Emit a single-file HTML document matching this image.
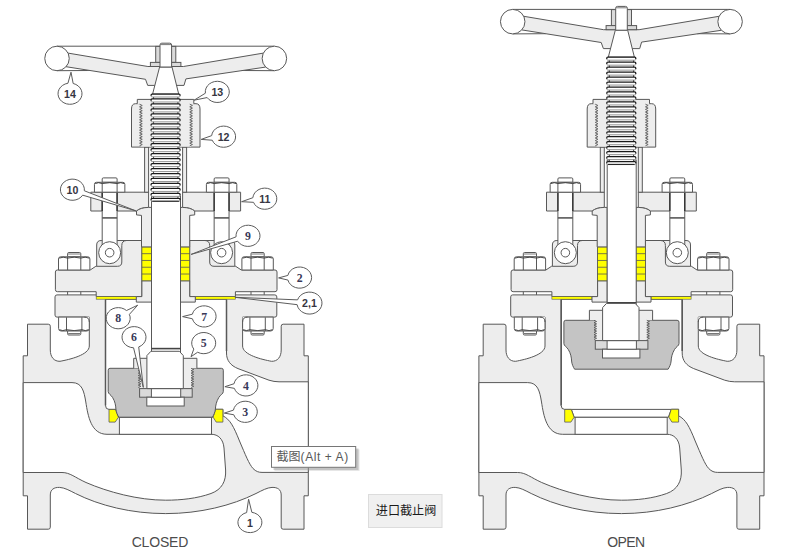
<!DOCTYPE html><html><head><meta charset="utf-8"><style>html,body{margin:0;padding:0;background:#fff}svg{display:block}</style></head><body><svg width="807" height="556" viewBox="0 0 807 556" font-family="'Liberation Sans', sans-serif" stroke-linecap="butt"><defs><g id="body"><path d="M57,294.9 H274.8 Q276.8,294.9 276.8,296.9 V315.1 Q276.8,317.1 274.8,317.1 H247.5 Q242.6,317.1 242.6,322 V346 C242.6,355 262,359.5 271.5,361.3 C277.5,361.5 281.2,357 281.2,350 V326.2 Q281.2,324.2 283.2,324.2 H304 V355.8 H308.3 V495.8 H304 V529.2 H283.2 Q281.2,529.2 281.2,527.2 V495 C281.2,489.5 277.5,487.2 272,487.4 C267,487.6 262,490.5 256,493.5 C232,505.5 200,513.6 165.75,513.6 C131,513.6 99.5,505.5 75.5,493.5 C69.5,490.5 64.5,487.6 59.5,487.4 C54,487.2 50.3,489.5 50.3,495 V527.2 Q50.3,529.2 48.3,529.2 H27.5 V495.8 H23.2 V355.8 H27.5 V324.2 H48.3 Q50.3,324.2 50.3,326.2 V350 C50.3,357 54,361.5 60,361.3 C69.5,359.5 89.3,355 89.3,346 V322 Q89.3,317.1 84.4,317.1 H57 Q55,317.1 55,315.1 V296.9 Q55,294.9 57,294.9 Z" fill="#ededed" stroke="#585858"/><path d="M23.2,382.6 H72 C82,382.6 84,391 85.8,402 C88,416 91,434.3 107,434.3 H211.5 C218,434.3 223.3,439 224,448 L225.6,470 C226.2,481 222,489.5 211,493.5 C197,498.5 181,500.2 165.75,500.2 C138,500.2 108,492 86,482.5 C75,477.5 70,472.5 62,472.5 H23.2 Z" fill="#fff" stroke="#585858"/><path d="M105.5,299.3 V405.5 Q105.5,409.4 109,409.4 H115.6 L118.6,417.3 H212.6 L215.6,409.3 H222.9 V415.8 C230,419.5 233.5,426 239.5,441 C245.5,455 249,464 253,468.5 C256,471.5 258.5,472.4 262,472.4 H308.3 V381.8 H279 Q274,381.8 269,380.2 L238,368.6 C230.5,365.5 226.5,360.5 226.5,353 V299.3 Z" fill="#fff" stroke="#585858"/><path d="M105.5,299.3 V405.5 M226.5,299.3 V351" stroke="#585858" stroke-width="1.5" fill="none"/><rect x="119.4" y="417.3" width="92.1" height="17" fill="#fff" stroke="#585858"/><path d="M115.6,409.4 H215.5" stroke="#585858" fill="none"/><path d="M109,409.4 H115.6 L118.4,417.3 L115.2,422.1 H109 Z" fill="#ffff00" stroke="#585858" stroke-width="0.8"/><path d="M222.9,409.3 H215.5 L213.1,417.1 L216.2,422.1 H222.9 Z" fill="#ffff00" stroke="#585858" stroke-width="0.8"/></g><g id="top"><path d="M55.4,272 Q55.4,270 57.4,270 H90.2 L95.8,266.3 H96.7 V245 Q96.7,240.5 101.2,240.5 H141.9 V296.6 H96.2 V291.7 H57.4 Q55.4,291.7 55.4,289.7 Z" fill="#ededed" stroke="#585858"/><path d="M277,272 Q277,270 275,270 H241.3 L235.7,266.3 H234.8 V245 Q234.8,240.5 230.3,240.5 H189.7 V296.6 H235.4 V291.7 H275 Q277,291.7 277,289.7 Z" fill="#ededed" stroke="#585858"/><path d="M126.6,240.5 Q121.8,240.7 121.8,245.5 V262 Q121.8,266.3 117.5,266.3 H96.7" fill="none" stroke="#585858"/><path d="M204.9,240.5 Q209.7,240.7 209.7,245.5 V262 Q209.7,266.3 214,266.3 H234.8" fill="none" stroke="#585858"/><rect x="96.2" y="296.7" width="40.1" height="2.5" fill="#ffff00" stroke="#585858" stroke-width="0.6"/><rect x="195.3" y="296.7" width="40.1" height="2.5" fill="#ffff00" stroke="#585858" stroke-width="0.6"/><path d="M141.9,280.8 H151.5 V302.1 H136.3 V296.6 H141.9 Z" fill="#ededed" stroke="#585858"/><path d="M189.7,280.8 H180.3 V302.1 H195.3 V296.6 H189.7 Z" fill="#ededed" stroke="#585858"/><rect x="141.9" y="246.9" width="9.60" height="33.9" fill="#ffff00" stroke="#585858" stroke-width="0.8"/><path d="M141.9,253.68 H151.5" stroke="#585858" stroke-width="0.8"/><path d="M141.9,260.46 H151.5" stroke="#585858" stroke-width="0.8"/><path d="M141.9,267.24 H151.5" stroke="#585858" stroke-width="0.8"/><path d="M141.9,274.02 H151.5" stroke="#585858" stroke-width="0.8"/><rect x="180.3" y="246.9" width="9.40" height="33.9" fill="#ffff00" stroke="#585858" stroke-width="0.8"/><path d="M180.3,253.68 H189.7" stroke="#585858" stroke-width="0.8"/><path d="M180.3,260.46 H189.7" stroke="#585858" stroke-width="0.8"/><path d="M180.3,267.24 H189.7" stroke="#585858" stroke-width="0.8"/><path d="M180.3,274.02 H189.7" stroke="#585858" stroke-width="0.8"/><path d="M67.60000000000001,256.8 V253.7 Q67.60000000000001,252.5 68.80000000000001,252.5 H79.6 Q80.8,252.5 80.8,253.7 V256.8 Z" fill="#fff" stroke="#585858"/><path d="M68.2,254 H80.2" stroke="#585858" stroke-width="0.8"/><path d="M58.5,270 V259 Q58.5,256.8 60.7,256.8 H87.7 Q89.9,256.8 89.9,259 V270 Z" fill="#fff" stroke="#585858"/><path d="M67.60000000000001,257 V270 M80.8,257 V270" stroke="#585858" fill="none"/><path d="M59.3,258.1 Q63.050000000000004,256.3 67.60000000000001,258.1 Q74.2,256.3 80.8,258.1 Q85.35,256.3 89.10000000000001,258.1" fill="none" stroke="#3a3a3a" stroke-width="0.9"/><path d="M67.60000000000001,291.7 V294.9 M80.8,291.7 V294.9" stroke="#585858" fill="none"/><path d="M251.00000000000003,256.8 V253.7 Q251.00000000000003,252.5 252.20000000000002,252.5 H263.00000000000006 Q264.20000000000005,252.5 264.20000000000005,253.7 V256.8 Z" fill="#fff" stroke="#585858"/><path d="M251.60000000000002,254 H263.6" stroke="#585858" stroke-width="0.8"/><path d="M241.90000000000003,270 V259 Q241.90000000000003,256.8 244.10000000000002,256.8 H271.1 Q273.3,256.8 273.3,259 V270 Z" fill="#fff" stroke="#585858"/><path d="M251.00000000000003,257 V270 M264.20000000000005,257 V270" stroke="#585858" fill="none"/><path d="M242.70000000000005,258.1 Q246.45000000000005,256.3 251.00000000000003,258.1 Q257.6,256.3 264.20000000000005,258.1 Q268.75,256.3 272.5,258.1" fill="none" stroke="#3a3a3a" stroke-width="0.9"/><path d="M251.00000000000003,291.7 V294.9 M264.20000000000005,291.7 V294.9" stroke="#585858" fill="none"/><path d="M58.6,317.1 V328.5 Q58.6,331 61.1,331 H86.8 Q89.3,331 89.3,328.5 V317.1 Z" fill="#fff" stroke="#585858"/><path d="M66.5,317.3 V331 M81.9,317.3 V331" stroke="#585858" fill="none"/><path d="M59.4,329.7 Q62.55,331.5 66.5,329.7 Q74.2,331.5 81.9,329.7 Q85.6,331.5 88.5,329.7" fill="none" stroke="#3a3a3a" stroke-width="0.9"/><path d="M67.60000000000001,331 V333.8 Q67.60000000000001,335 68.8,335 H79.60000000000001 Q80.8,335 80.8,333.8 V331 Z" fill="#fff" stroke="#585858"/><path d="M68.2,333.6 H80.2" stroke="#585858" stroke-width="0.9"/><path d="M242.6,317.1 V328.5 Q242.6,331 245.1,331 H270.70000000000005 Q273.20000000000005,331 273.20000000000005,328.5 V317.1 Z" fill="#fff" stroke="#585858"/><path d="M249.90000000000003,317.3 V331 M265.3,317.3 V331" stroke="#585858" fill="none"/><path d="M243.4,329.7 Q246.25,331.5 249.90000000000003,329.7 Q257.6,331.5 265.3,329.7 Q269.25,331.5 272.40000000000003,329.7" fill="none" stroke="#3a3a3a" stroke-width="0.9"/><path d="M251.00000000000003,331 V333.8 Q251.00000000000003,335 252.20000000000002,335 H263.0 Q264.20000000000005,335 264.20000000000005,333.8 V331 Z" fill="#fff" stroke="#585858"/><path d="M251.60000000000002,333.6 H263.6" stroke="#585858" stroke-width="0.9"/><path d="M84.4,317.1 H89.3 V322 Q89.3,317.1 84.4,317.1 Z" fill="#ededed" stroke="none"/><path d="M84.4,317.1 Q89.3,317.1 89.3,322" fill="none" stroke="#585858"/><path d="M247.5,317.1 H242.6 V322 Q242.6,317.1 247.5,317.1 Z" fill="#ededed" stroke="none"/><path d="M247.5,317.1 Q242.6,317.1 242.6,322" fill="none" stroke="#585858"/><path d="M90.8,192.2 H148.6 V207.4 Q140.5,207.6 136.5,211 H90.8 Z" fill="#ededed" stroke="#585858"/><path d="M240.6,192.2 H182.6 V207.4 Q190.7,207.6 194.7,211 H240.6 Z" fill="#ededed" stroke="#585858"/><path d="M136.5,211 V214.9 L141.5,215.4 V246.9 H151.5 V207.4 H148.6 Q140.5,207.6 136.5,211 Z" fill="#ededed" stroke="#585858"/><path d="M194.7,211 V214.9 L189.7,215.4 V246.9 H180.3 V207.4 H182.6 Q190.7,207.6 194.7,211 Z" fill="#ededed" stroke="#585858"/><path d="M102.2,192.2 V246 H117.1 V192.2 Z" fill="#fff" stroke="#585858"/><circle cx="109.65" cy="252.7" r="11" fill="#fff" stroke="#585858"/><circle cx="109.65" cy="252.7" r="4.3" fill="#fff" stroke="#585858"/><path d="M102.2,217.9 H117.1" stroke="#585858" stroke-width="1.6"/><path d="M102.2,192.2 V211 M117.1,192.2 V211" stroke="#333" stroke-width="1.4"/><path d="M102.2,182.3 V179 Q102.2,177.9 103.3,177.9 H116.0 Q117.1,177.9 117.1,179 V182.3 Z" fill="#fff" stroke="#585858"/><path d="M94.45,192.2 V184.3 Q94.45,182.3 96.45,182.3 H122.85000000000001 Q124.85000000000001,182.3 124.85000000000001,184.3 V192.2 Z" fill="#fff" stroke="#585858"/><path d="M102.2,182.5 V192.2 M117.1,182.5 V192.2" stroke="#585858" fill="none"/><path d="M95.25,183.60000000000002 Q98.325,181.8 102.2,183.60000000000002 Q109.65,181.8 117.1,183.60000000000002 Q120.975,181.8 124.05000000000001,183.60000000000002" fill="none" stroke="#3a3a3a" stroke-width="0.9"/><path d="M214.15,192.2 V246 H229.05 V192.2 Z" fill="#fff" stroke="#585858"/><circle cx="221.6" cy="252.7" r="11" fill="#fff" stroke="#585858"/><circle cx="221.6" cy="252.7" r="4.3" fill="#fff" stroke="#585858"/><path d="M214.15,217.9 H229.05" stroke="#585858" stroke-width="1.6"/><path d="M214.15,192.2 V211 M229.05,192.2 V211" stroke="#333" stroke-width="1.4"/><path d="M214.15,182.3 V179 Q214.15,177.9 215.25,177.9 H227.95000000000002 Q229.05,177.9 229.05,179 V182.3 Z" fill="#fff" stroke="#585858"/><path d="M206.4,192.2 V184.3 Q206.4,182.3 208.4,182.3 H234.79999999999998 Q236.79999999999998,182.3 236.79999999999998,184.3 V192.2 Z" fill="#fff" stroke="#585858"/><path d="M214.15,182.5 V192.2 M229.05,182.5 V192.2" stroke="#585858" fill="none"/><path d="M207.20000000000002,183.60000000000002 Q210.275,181.8 214.15,183.60000000000002 Q221.60000000000002,181.8 229.05,183.60000000000002 Q232.925,181.8 235.99999999999997,183.60000000000002" fill="none" stroke="#3a3a3a" stroke-width="0.9"/><rect x="144.6" y="147.1" width="4" height="45.1" fill="#ededed" stroke="#585858"/><rect x="182.6" y="147.1" width="4" height="45.1" fill="#ededed" stroke="#585858"/><path d="M131.5,109 Q131.5,103.7 135.5,103.7 H196 Q200,103.7 200,109 V147.1 H131.5 Z" fill="#ededed" stroke="#585858"/><rect x="137.3" y="99.4" width="56.5" height="5" fill="#ededed"/><rect x="140.9" y="103" width="50.2" height="43.6" fill="#ededed"/><path d="M137.3,103.7 V99.4 H193.8 V103.7" fill="none" stroke="#585858"/><path d="M139.55,104.20 L142.25,105.50 L139.55,106.80 L142.25,108.10 L139.55,109.40 L142.25,110.70 L139.55,112.00 L142.25,113.30 L139.55,114.60 L142.25,115.90 L139.55,117.20 L142.25,118.50 L139.55,119.80 L142.25,121.10 L139.55,122.40 L142.25,123.70 L139.55,125.00 L142.25,126.30 L139.55,127.60 L142.25,128.90 L139.55,130.20 L142.25,131.50 L139.55,132.80 L142.25,134.10 L139.55,135.40 L142.25,136.70 L139.55,138.00 L142.25,139.30 L139.55,140.60 L142.25,141.90 L139.55,143.20 L142.25,144.50 L139.55,145.80" fill="none" stroke="#666" stroke-width="1"/><path d="M189.75,104.20 L192.45,105.50 L189.75,106.80 L192.45,108.10 L189.75,109.40 L192.45,110.70 L189.75,112.00 L192.45,113.30 L189.75,114.60 L192.45,115.90 L189.75,117.20 L192.45,118.50 L189.75,119.80 L192.45,121.10 L189.75,122.40 L192.45,123.70 L189.75,125.00 L192.45,126.30 L189.75,127.60 L192.45,128.90 L189.75,130.20 L192.45,131.50 L189.75,132.80 L192.45,134.10 L189.75,135.40 L192.45,136.70 L189.75,138.00 L192.45,139.30 L189.75,140.60 L192.45,141.90 L189.75,143.20 L192.45,144.50 L189.75,145.80" fill="none" stroke="#666" stroke-width="1"/></g><g id="head"><path d="M57,46.2 H274.4 M57,70.7 L90,70.5 M274.4,70.7 L241.4,70.5" stroke="#585858" fill="none"/><path d="M66,52.75 L147.9,66.5 H183.4 L265.5,52.75 V67.1 L185.9,78.9 L184,85.4 H147.7 L145.5,79.3 L66,66.7 Z" fill="#ededed" stroke="#585858" stroke-linejoin="round"/><circle cx="57" cy="58.45" r="12.25" fill="#fff" stroke="#585858"/><circle cx="274.4" cy="58.45" r="12.25" fill="#fff" stroke="#585858"/><rect x="155.7" y="46.4" width="20.1" height="16" fill="#dadada" stroke="#585858"/><rect x="150.4" y="62.4" width="30.5" height="4.1" fill="#dadada" stroke="#585858"/><path d="M159.6,67 H172 L178.7,94 H152.6 Z" fill="#fff" stroke="#585858"/><path d="M160,67 V45 Q160,43.2 161.8,43.2 H169.8 Q171.6,43.2 171.6,45 V67 Z" fill="#fff" stroke="#585858"/><path d="M160.6,44.6 H171" stroke="#585858" stroke-width="0.8"/><rect x="153.6" y="94.5" width="24.3" height="105.9" fill="#fff" stroke="#333" stroke-width="0.9"/><rect x="151.1" y="94.00" width="28.95" height="3.0" rx="1" fill="#fff"/><path d="M151.1,95.50 V96.10 Q151.1,97.00 152.1,97.00 H179.05 Q180.05,97.00 180.05,96.10 V95.50" fill="none" stroke="#7a7a7a" stroke-width="0.8"/><path d="M151.1,95.80 V94.90 Q151.1,94.00 152.1,94.00 H179.05 Q180.05,94.00 180.05,94.90 V95.80" fill="none" stroke="#1a1a1a" stroke-width="1.25"/><rect x="151.1" y="98.97" width="28.95" height="3.0" rx="1" fill="#fff"/><path d="M151.1,100.47 V101.07 Q151.1,101.97 152.1,101.97 H179.05 Q180.05,101.97 180.05,101.07 V100.47" fill="none" stroke="#7a7a7a" stroke-width="0.8"/><path d="M151.1,100.77 V99.87 Q151.1,98.97 152.1,98.97 H179.05 Q180.05,98.97 180.05,99.87 V100.77" fill="none" stroke="#1a1a1a" stroke-width="1.25"/><rect x="151.1" y="103.94" width="28.95" height="3.0" rx="1" fill="#fff"/><path d="M151.1,105.44 V106.04 Q151.1,106.94 152.1,106.94 H179.05 Q180.05,106.94 180.05,106.04 V105.44" fill="none" stroke="#7a7a7a" stroke-width="0.8"/><path d="M151.1,105.74 V104.84 Q151.1,103.94 152.1,103.94 H179.05 Q180.05,103.94 180.05,104.84 V105.74" fill="none" stroke="#1a1a1a" stroke-width="1.25"/><rect x="151.1" y="108.91" width="28.95" height="3.0" rx="1" fill="#fff"/><path d="M151.1,110.41 V111.01 Q151.1,111.91 152.1,111.91 H179.05 Q180.05,111.91 180.05,111.01 V110.41" fill="none" stroke="#7a7a7a" stroke-width="0.8"/><path d="M151.1,110.71 V109.81 Q151.1,108.91 152.1,108.91 H179.05 Q180.05,108.91 180.05,109.81 V110.71" fill="none" stroke="#1a1a1a" stroke-width="1.25"/><rect x="151.1" y="113.88" width="28.95" height="3.0" rx="1" fill="#fff"/><path d="M151.1,115.38 V115.98 Q151.1,116.88 152.1,116.88 H179.05 Q180.05,116.88 180.05,115.98 V115.38" fill="none" stroke="#7a7a7a" stroke-width="0.8"/><path d="M151.1,115.68 V114.78 Q151.1,113.88 152.1,113.88 H179.05 Q180.05,113.88 180.05,114.78 V115.68" fill="none" stroke="#1a1a1a" stroke-width="1.25"/><rect x="151.1" y="118.85" width="28.95" height="3.0" rx="1" fill="#fff"/><path d="M151.1,120.35 V120.95 Q151.1,121.85 152.1,121.85 H179.05 Q180.05,121.85 180.05,120.95 V120.35" fill="none" stroke="#7a7a7a" stroke-width="0.8"/><path d="M151.1,120.65 V119.75 Q151.1,118.85 152.1,118.85 H179.05 Q180.05,118.85 180.05,119.75 V120.65" fill="none" stroke="#1a1a1a" stroke-width="1.25"/><rect x="151.1" y="123.82" width="28.95" height="3.0" rx="1" fill="#fff"/><path d="M151.1,125.32 V125.92 Q151.1,126.82 152.1,126.82 H179.05 Q180.05,126.82 180.05,125.92 V125.32" fill="none" stroke="#7a7a7a" stroke-width="0.8"/><path d="M151.1,125.62 V124.72 Q151.1,123.82 152.1,123.82 H179.05 Q180.05,123.82 180.05,124.72 V125.62" fill="none" stroke="#1a1a1a" stroke-width="1.25"/><rect x="151.1" y="128.79" width="28.95" height="3.0" rx="1" fill="#fff"/><path d="M151.1,130.29 V130.89 Q151.1,131.79 152.1,131.79 H179.05 Q180.05,131.79 180.05,130.89 V130.29" fill="none" stroke="#7a7a7a" stroke-width="0.8"/><path d="M151.1,130.59 V129.69 Q151.1,128.79 152.1,128.79 H179.05 Q180.05,128.79 180.05,129.69 V130.59" fill="none" stroke="#1a1a1a" stroke-width="1.25"/><rect x="151.1" y="133.76" width="28.95" height="3.0" rx="1" fill="#fff"/><path d="M151.1,135.26 V135.86 Q151.1,136.76 152.1,136.76 H179.05 Q180.05,136.76 180.05,135.86 V135.26" fill="none" stroke="#7a7a7a" stroke-width="0.8"/><path d="M151.1,135.56 V134.66 Q151.1,133.76 152.1,133.76 H179.05 Q180.05,133.76 180.05,134.66 V135.56" fill="none" stroke="#1a1a1a" stroke-width="1.25"/><rect x="151.1" y="138.73" width="28.95" height="3.0" rx="1" fill="#fff"/><path d="M151.1,140.23 V140.83 Q151.1,141.73 152.1,141.73 H179.05 Q180.05,141.73 180.05,140.83 V140.23" fill="none" stroke="#7a7a7a" stroke-width="0.8"/><path d="M151.1,140.53 V139.63 Q151.1,138.73 152.1,138.73 H179.05 Q180.05,138.73 180.05,139.63 V140.53" fill="none" stroke="#1a1a1a" stroke-width="1.25"/><rect x="151.1" y="143.70" width="28.95" height="3.0" rx="1" fill="#fff"/><path d="M151.1,145.20 V145.80 Q151.1,146.70 152.1,146.70 H179.05 Q180.05,146.70 180.05,145.80 V145.20" fill="none" stroke="#7a7a7a" stroke-width="0.8"/><path d="M151.1,145.50 V144.60 Q151.1,143.70 152.1,143.70 H179.05 Q180.05,143.70 180.05,144.60 V145.50" fill="none" stroke="#1a1a1a" stroke-width="1.25"/><rect x="151.1" y="148.67" width="28.95" height="3.0" rx="1" fill="#fff"/><path d="M151.1,150.17 V150.77 Q151.1,151.67 152.1,151.67 H179.05 Q180.05,151.67 180.05,150.77 V150.17" fill="none" stroke="#7a7a7a" stroke-width="0.8"/><path d="M151.1,150.47 V149.57 Q151.1,148.67 152.1,148.67 H179.05 Q180.05,148.67 180.05,149.57 V150.47" fill="none" stroke="#1a1a1a" stroke-width="1.25"/><rect x="151.1" y="153.64" width="28.95" height="3.0" rx="1" fill="#fff"/><path d="M151.1,155.14 V155.74 Q151.1,156.64 152.1,156.64 H179.05 Q180.05,156.64 180.05,155.74 V155.14" fill="none" stroke="#7a7a7a" stroke-width="0.8"/><path d="M151.1,155.44 V154.54 Q151.1,153.64 152.1,153.64 H179.05 Q180.05,153.64 180.05,154.54 V155.44" fill="none" stroke="#1a1a1a" stroke-width="1.25"/><rect x="151.1" y="158.61" width="28.95" height="3.0" rx="1" fill="#fff"/><path d="M151.1,160.11 V160.71 Q151.1,161.61 152.1,161.61 H179.05 Q180.05,161.61 180.05,160.71 V160.11" fill="none" stroke="#7a7a7a" stroke-width="0.8"/><path d="M151.1,160.41 V159.51 Q151.1,158.61 152.1,158.61 H179.05 Q180.05,158.61 180.05,159.51 V160.41" fill="none" stroke="#1a1a1a" stroke-width="1.25"/><rect x="151.1" y="163.58" width="28.95" height="3.0" rx="1" fill="#fff"/><path d="M151.1,165.08 V165.68 Q151.1,166.58 152.1,166.58 H179.05 Q180.05,166.58 180.05,165.68 V165.08" fill="none" stroke="#7a7a7a" stroke-width="0.8"/><path d="M151.1,165.38 V164.48 Q151.1,163.58 152.1,163.58 H179.05 Q180.05,163.58 180.05,164.48 V165.38" fill="none" stroke="#1a1a1a" stroke-width="1.25"/><rect x="151.1" y="168.55" width="28.95" height="3.0" rx="1" fill="#fff"/><path d="M151.1,170.05 V170.65 Q151.1,171.55 152.1,171.55 H179.05 Q180.05,171.55 180.05,170.65 V170.05" fill="none" stroke="#7a7a7a" stroke-width="0.8"/><path d="M151.1,170.35 V169.45 Q151.1,168.55 152.1,168.55 H179.05 Q180.05,168.55 180.05,169.45 V170.35" fill="none" stroke="#1a1a1a" stroke-width="1.25"/><rect x="151.1" y="173.52" width="28.95" height="3.0" rx="1" fill="#fff"/><path d="M151.1,175.02 V175.62 Q151.1,176.52 152.1,176.52 H179.05 Q180.05,176.52 180.05,175.62 V175.02" fill="none" stroke="#7a7a7a" stroke-width="0.8"/><path d="M151.1,175.32 V174.42 Q151.1,173.52 152.1,173.52 H179.05 Q180.05,173.52 180.05,174.42 V175.32" fill="none" stroke="#1a1a1a" stroke-width="1.25"/><rect x="151.1" y="178.49" width="28.95" height="3.0" rx="1" fill="#fff"/><path d="M151.1,179.99 V180.59 Q151.1,181.49 152.1,181.49 H179.05 Q180.05,181.49 180.05,180.59 V179.99" fill="none" stroke="#7a7a7a" stroke-width="0.8"/><path d="M151.1,180.29 V179.39 Q151.1,178.49 152.1,178.49 H179.05 Q180.05,178.49 180.05,179.39 V180.29" fill="none" stroke="#1a1a1a" stroke-width="1.25"/><rect x="151.1" y="183.46" width="28.95" height="3.0" rx="1" fill="#fff"/><path d="M151.1,184.96 V185.56 Q151.1,186.46 152.1,186.46 H179.05 Q180.05,186.46 180.05,185.56 V184.96" fill="none" stroke="#7a7a7a" stroke-width="0.8"/><path d="M151.1,185.26 V184.36 Q151.1,183.46 152.1,183.46 H179.05 Q180.05,183.46 180.05,184.36 V185.26" fill="none" stroke="#1a1a1a" stroke-width="1.25"/><rect x="151.1" y="188.43" width="28.95" height="3.0" rx="1" fill="#fff"/><path d="M151.1,189.93 V190.53 Q151.1,191.43 152.1,191.43 H179.05 Q180.05,191.43 180.05,190.53 V189.93" fill="none" stroke="#7a7a7a" stroke-width="0.8"/><path d="M151.1,190.23 V189.33 Q151.1,188.43 152.1,188.43 H179.05 Q180.05,188.43 180.05,189.33 V190.23" fill="none" stroke="#1a1a1a" stroke-width="1.25"/><rect x="151.1" y="193.40" width="28.95" height="3.0" rx="1" fill="#fff"/><path d="M151.1,194.90 V195.50 Q151.1,196.40 152.1,196.40 H179.05 Q180.05,196.40 180.05,195.50 V194.90" fill="none" stroke="#7a7a7a" stroke-width="0.8"/><path d="M151.1,195.20 V194.30 Q151.1,193.40 152.1,193.40 H179.05 Q180.05,193.40 180.05,194.30 V195.20" fill="none" stroke="#1a1a1a" stroke-width="1.25"/><rect x="151.1" y="198.37" width="28.95" height="3.0" rx="1" fill="#fff"/><path d="M151.1,199.87 V200.47 Q151.1,201.37 152.1,201.37 H179.05 Q180.05,201.37 180.05,200.47 V199.87" fill="none" stroke="#7a7a7a" stroke-width="0.8"/><path d="M151.1,200.17 V199.27 Q151.1,198.37 152.1,198.37 H179.05 Q180.05,198.37 180.05,199.27 V200.17" fill="none" stroke="#1a1a1a" stroke-width="1.25"/><path d="M152.3,201.2 H178.9" stroke="#222" stroke-width="1.1"/></g><g id="disc"><path d="M110,368.3 H221.4 Q223.3,368.3 223.3,370.2 V391.5 C223.3,394 220.5,394.5 218.8,397.5 C216.5,401.5 215.6,405 215.4,409 C215.2,412 213.8,415 212.4,417.2 H118.9 C117.5,415 116.1,412 115.9,409 C115.7,405 115,401.5 112.6,397.5 C110.8,394.5 108.2,394 108.2,391.5 V370.2 Q108.2,368.3 110,368.3 Z" fill="#c4c4c4" stroke="#585858"/><path d="M133.7,368.3 V358.3 H196.9 V368.3" fill="#ededed" stroke="#585858"/><rect x="139.6" y="367.8" width="53" height="20.6" fill="#ededed"/><path d="M138.30,368.30 L140.90,369.50 L138.30,370.70 L140.90,371.90 L138.30,373.10 L140.90,374.30 L138.30,375.50 L140.90,376.70 L138.30,377.90 L140.90,379.10 L138.30,380.30 L140.90,381.50 L138.30,382.70 L140.90,383.90 L138.30,385.10 L140.90,386.30 L138.30,387.50" fill="none" stroke="#555" stroke-width="0.9"/><path d="M191.10,368.30 L193.70,369.50 L191.10,370.70 L193.70,371.90 L191.10,373.10 L193.70,374.30 L191.10,375.50 L193.70,376.70 L191.10,377.90 L193.70,379.10 L191.10,380.30 L193.70,381.50 L191.10,382.70 L193.70,383.90 L191.10,385.10 L193.70,386.30 L191.10,387.50" fill="none" stroke="#555" stroke-width="0.9"/><rect x="139.6" y="388.6" width="52.6" height="8.6" fill="#dadada" stroke="#585858"/><rect x="146.8" y="397.2" width="37.4" height="8.8" fill="#fff" stroke="#585858"/><rect x="151.4" y="388.6" width="29.3" height="8.6" fill="#fff" stroke="#585858"/><path d="M146.9,388.6 V355.6 L150.9,351.3 H179.4 L183.3,355.6 V388.6 Z" fill="#fff" stroke="#585858"/></g></defs><rect width="807" height="556" fill="#fff"/><use href="#body"/><use href="#top"/><rect x="151.5" y="196" width="29" height="157" fill="#fff" stroke="#585858"/><use href="#head"/><use href="#disc"/><path d="M151.5,348.6 H180.5" stroke="#444" stroke-width="1.6"/><g transform="translate(455.7,0)"><use href="#body"/><use href="#top"/><rect x="151.5" y="160" width="29" height="145" fill="#fff" stroke="#585858"/><use href="#head" transform="translate(0,-36.8)"/><use href="#disc" transform="translate(0,-48.0)"/><path d="M151.5,302.7 H180.5" stroke="#444" stroke-width="1.4"/></g><path d="M73.16,83.47 A12,10.6 0 1 1 67.93,83.26 L71,72.2 Z" fill="#fff" stroke="#5c5c5c" stroke-width="1" stroke-linejoin="miter"/><text transform="translate(70,97.8) scale(0.9,1)" text-anchor="middle" font-size="11.8" font-weight="bold" fill="#363642">14</text><path d="M205.39,93.21 A12,10.6 0 1 1 207.16,97.56 L194.1,100.2 Z" fill="#fff" stroke="#5c5c5c" stroke-width="1" stroke-linejoin="miter"/><text transform="translate(217.3,96.0) scale(0.9,1)" text-anchor="middle" font-size="11.8" font-weight="bold" fill="#363642">13</text><path d="M211.66,135.64 A12,10.6 0 1 1 212.29,140.23 L201.2,139.4 Z" fill="#fff" stroke="#5c5c5c" stroke-width="1" stroke-linejoin="miter"/><text transform="translate(223.6,140.8) scale(0.9,1)" text-anchor="middle" font-size="11.8" font-weight="bold" fill="#363642">12</text><path d="M252.85,197.73 A12,10.6 0 1 1 253.52,202.32 L241.6,201.7 Z" fill="#fff" stroke="#5c5c5c" stroke-width="1" stroke-linejoin="miter"/><text transform="translate(264.8,202.8) scale(0.9,1)" text-anchor="middle" font-size="11.8" font-weight="bold" fill="#363642">11</text><path d="M82.68,195.17 A12,10.6 0 1 1 84.34,190.78 L135.7,210.8 Z" fill="#fff" stroke="#5c5c5c" stroke-width="1" stroke-linejoin="miter"/><text transform="translate(72.4,193.8) scale(0.9,1)" text-anchor="middle" font-size="11.8" font-weight="bold" fill="#363642">10</text><path d="M236.06,236.82 A12,10.6 0 1 1 237.68,241.21 L191.1,254.4 Z" fill="#fff" stroke="#5c5c5c" stroke-width="1" stroke-linejoin="miter"/><text x="248" y="239.9" text-anchor="middle" font-size="11.8" font-weight="bold" font-family="'Liberation Serif', serif" fill="#383858">9</text><path d="M287.85,275.43 A12,10.6 0 1 1 287.93,280.06 L278.6,277.9 Z" fill="#fff" stroke="#5c5c5c" stroke-width="1" stroke-linejoin="miter"/><text x="299.6" y="281.7" text-anchor="middle" font-size="11.8" font-weight="bold" font-family="'Liberation Serif', serif" fill="#383858">2</text><path d="M297.55,299.87 A12.5,11 0 1 1 297.13,304.66 L234.9,297.3 Z" fill="#fff" stroke="#5c5c5c" stroke-width="1" stroke-linejoin="miter"/><text transform="translate(309.5,307.2) scale(0.9,1)" text-anchor="middle" font-size="11.8" font-weight="bold" fill="#363642">2,1</text><path d="M129.40,314.39 A12,10.6 0 1 1 126.49,310.54 L137.7,305.2 Z" fill="#fff" stroke="#5c5c5c" stroke-width="1" stroke-linejoin="miter"/><text x="118.2" y="322.3" text-anchor="middle" font-size="11.8" font-weight="bold" font-family="'Liberation Serif', serif" fill="#383858">8</text><path d="M192.37,314.18 A12,10.6 0 1 1 192.41,318.81 L182.6,316.6 Z" fill="#fff" stroke="#5c5c5c" stroke-width="1" stroke-linejoin="miter"/><text x="204.1" y="320.5" text-anchor="middle" font-size="11.8" font-weight="bold" font-family="'Liberation Serif', serif" fill="#383858">7</text><path d="M133.56,347.79 A12,10.6 0 1 1 138.71,346.95 L143.3,387.4 Z" fill="#fff" stroke="#5c5c5c" stroke-width="1" stroke-linejoin="miter"/><text x="134" y="341.3" text-anchor="middle" font-size="11.8" font-weight="bold" font-family="'Liberation Serif', serif" fill="#383858">6</text><path d="M193.79,349.08 A12,10.6 0 1 1 197.62,352.24 L191,356.7 Z" fill="#fff" stroke="#5c5c5c" stroke-width="1" stroke-linejoin="miter"/><text x="203.7" y="347.2" text-anchor="middle" font-size="11.8" font-weight="bold" font-family="'Liberation Serif', serif" fill="#383858">5</text><path d="M234.05,383.73 A12,10.6 0 1 1 234.37,388.35 L224.9,386.7 Z" fill="#fff" stroke="#5c5c5c" stroke-width="1" stroke-linejoin="miter"/><text x="245.9" y="389.5" text-anchor="middle" font-size="11.8" font-weight="bold" font-family="'Liberation Serif', serif" fill="#383858">4</text><path d="M233.45,410.13 A12,10.6 0 1 1 233.77,414.75 L224.3,413.1 Z" fill="#fff" stroke="#5c5c5c" stroke-width="1" stroke-linejoin="miter"/><text x="245.3" y="415.9" text-anchor="middle" font-size="11.8" font-weight="bold" font-family="'Liberation Serif', serif" fill="#383858">3</text><path d="M251.86,512.34 A12,10.2 0 1 1 246.63,512.59 L248.6,499.2 Z" fill="#fff" stroke="#5c5c5c" stroke-width="1" stroke-linejoin="miter"/><text transform="translate(249.9,526.5) scale(0.9,1)" text-anchor="middle" font-size="11.8" font-weight="bold" fill="#363642">1</text><text x="159.9" y="546.8" text-anchor="middle" font-size="14" letter-spacing="-0.2" fill="#4c4c4c">CLOSED</text><text x="625.9" y="546.8" text-anchor="middle" font-size="14" letter-spacing="-0.6" fill="#4c4c4c">OPEN</text><rect x="273.5" y="448.5" width="85" height="21.5" fill="#9a9a9a" opacity="0.45"/><rect x="274.5" y="449.5" width="85" height="21.5" fill="#9a9a9a" opacity="0.25"/><rect x="271.5" y="446.5" width="84.2" height="20.8" fill="#fff" stroke="#767676"/><text x="276.6" y="461.4" font-size="12" font-family="'Liberation Sans', 'Noto Sans CJK SC', sans-serif" fill="#575757">截图</text><text x="300.6" y="461.2" font-size="12" fill="#575757" textLength="47.6" lengthAdjust="spacing">(Alt + A)</text><rect x="368.5" y="494.5" width="73.5" height="33" fill="#f0f0f0" stroke="#dcdcdc"/><text x="375.8" y="515.2" font-size="12.1" font-family="'Liberation Sans', 'Noto Sans CJK SC', sans-serif" fill="#1a1a1a">进口截止阀</text></svg></body></html>
